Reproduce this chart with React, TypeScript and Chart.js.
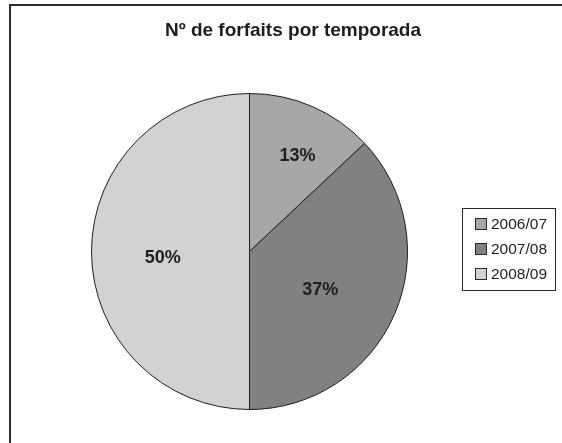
import React, { useEffect, useRef } from "react";
import { Chart, registerables } from "chart.js";

Chart.register(...registerables);

const chartTitle = "Nº de forfaits por temporada";
const seasons = ["2006/07", "2007/08", "2008/09"];
const shares = [13, 37, 50];
const sliceColors = ["#a7a7a9", "#818184", "#d2d2d4"];

const FONT = '"Liberation Sans", Arial, sans-serif';

const decorPlugin = {
  id: "decor",
  afterDraw(chart: any) {
    const ctx = chart.ctx;
    ctx.save();
    // frame (top and left edges visible)
    ctx.strokeStyle = "#2a2a2a";
    ctx.lineWidth = 2;
    ctx.beginPath();
    ctx.moveTo(10, chart.height + 2);
    ctx.lineTo(10, 5);
    ctx.lineTo(chart.width + 2, 5);
    ctx.stroke();

    // title
    ctx.fillStyle = "#1e1e1e";
    ctx.font = `bold 19px ${FONT}`;
    ctx.textAlign = "center";
    ctx.textBaseline = "middle";
    ctx.fillText(chartTitle, 293, 31);

    // slice labels
    const meta = chart.getDatasetMeta(0);
    const total = shares.reduce((a, b) => a + b, 0);
    const fractions = [0.7, 0.5, 0.55];
    const angleShift = [0.04, 0.05, -0.03];
    ctx.font = `bold 18px ${FONT}`;
    meta.data.forEach((arc: any, i: number) => {
      const p = arc.getProps(["x", "y", "startAngle", "endAngle", "outerRadius"], true);
      const mid = (p.startAngle + p.endAngle) / 2 + angleShift[i];
      const r = p.outerRadius * fractions[i];
      const x = p.x + Math.cos(mid) * r;
      const y = p.y + Math.sin(mid) * r + 4;
      ctx.fillStyle = "#1e1e1e";
      ctx.fillText(Math.round((shares[i] / total) * 100) + "%", x, y);
    });

    // legend
    const lx = 462, ly = 208, lw = 93, lh = 82;
    ctx.strokeStyle = "#2a2a2a";
    ctx.lineWidth = 1;
    ctx.strokeRect(lx + 0.5, ly + 0.5, lw, lh);
    ctx.font = `15.5px ${FONT}`;
    ctx.textAlign = "left";
    seasons.forEach((s, i) => {
      const cy = 224 + i * 25;
      ctx.fillStyle = sliceColors[i];
      ctx.fillRect(475, cy - 6, 12, 12);
      ctx.strokeStyle = "#2a2a2a";
      ctx.strokeRect(475.5, cy - 5.5, 11, 11);
      ctx.fillStyle = "#1e1e1e";
      ctx.fillText(s, 491, cy + 1);
    });
    ctx.restore();
  },
};

export default function App() {
  const ref = useRef<HTMLCanvasElement>(null);
  useEffect(() => {
    if (!ref.current) return;
    const chart = new Chart(ref.current, {
      type: "pie",
      data: {
        labels: seasons,
        datasets: [
          {
            data: shares,
            backgroundColor: sliceColors,
            borderColor: "#1e1e1e",
            borderWidth: 1,
          },
        ],
      },
      options: {
        animation: false,
        responsive: false,
        layout: { padding: { left: 91, right: 154, top: 93, bottom: 33 } },
        plugins: {
          legend: { display: false },
          title: { display: false },
          tooltip: { enabled: false },
        },
      },
      plugins: [decorPlugin],
    });
    return () => chart.destroy();
  }, []);
  return (
    <div style={{ position: "fixed", left: 0, top: 0, width: 562, height: 443, background: "#fff" }}>
      <canvas ref={ref} width={562} height={443} style={{ display: "block", width: 562, height: 443 }} />
    </div>
  );
}
